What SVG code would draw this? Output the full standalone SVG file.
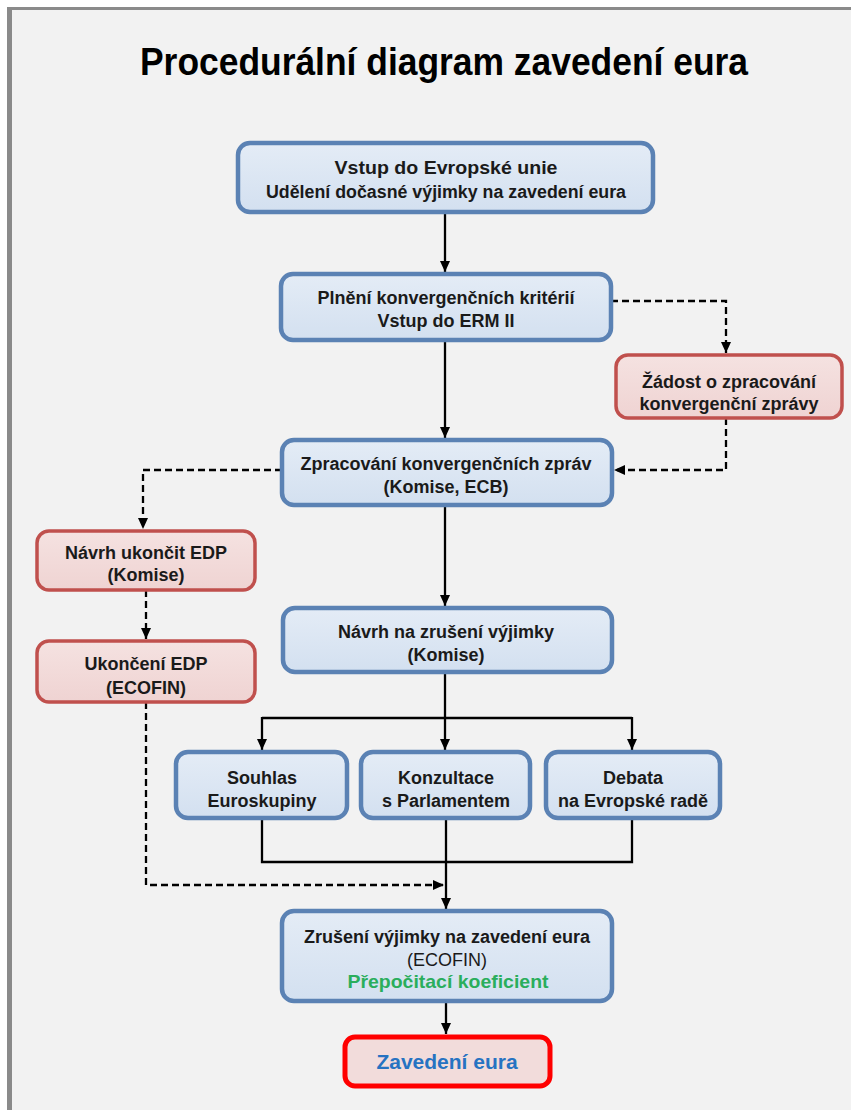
<svg xmlns="http://www.w3.org/2000/svg" width="851" height="1113" viewBox="0 0 851 1113">
<defs>
<linearGradient id="gb" x1="0" y1="0" x2="0" y2="1">
<stop offset="0" stop-color="#e4ecf6"/>
<stop offset="1" stop-color="#d3e0f0"/>
</linearGradient>
<linearGradient id="gr" x1="0" y1="0" x2="0" y2="1">
<stop offset="0" stop-color="#f5e2e1"/>
<stop offset="1" stop-color="#efd3d2"/>
</linearGradient>
<marker id="ah" markerWidth="12" markerHeight="12" refX="11" refY="6" orient="auto" markerUnits="userSpaceOnUse">
<path d="M0,1 L11,6 L0,11 z" fill="#000"/>
</marker>
</defs>
<style>
.blue{fill:url(#gb);stroke:#5b82b4;stroke-width:4.5}
.red{fill:url(#gr);stroke:#c0504d;stroke-width:3.5}
.final{fill:#f2dcdb;stroke:#ff0000;stroke-width:5}
.t{font-family:"Liberation Sans",Arial,sans-serif;font-size:18px;font-weight:bold;fill:#1a1a1a;text-anchor:middle}
.r{font-weight:normal}
.ln{fill:none;stroke:#000;stroke-width:2.3}
.dash{stroke-dasharray:7 4}
</style>
<rect x="0" y="0" width="851" height="1113" fill="#ffffff"/>
<rect x="7" y="7" width="844" height="1103" fill="#f2f2f2"/>
<rect x="7" y="7" width="844" height="3" fill="#8a8a8a"/>
<rect x="7" y="7" width="5" height="1103" fill="#8a8a8a"/>
<text x="444" y="75" font-family="Liberation Sans,Arial,sans-serif" font-size="39" font-weight="bold" text-anchor="middle" fill="#000" textLength="608" lengthAdjust="spacingAndGlyphs">Procedurální diagram zavedení eura</text>

<g id="connectors">
<path class="ln" d="M445,212 V272" marker-end="url(#ah)"/>
<path class="ln dash" d="M611,301 H726 V353" marker-end="url(#ah)"/>
<path class="ln dash" d="M726,418 V470 H614" marker-end="url(#ah)"/>
<path class="ln" d="M445,340 V438" marker-end="url(#ah)"/>
<path class="ln dash" d="M282,470 H143 V529" marker-end="url(#ah)"/>
<path class="ln dash" d="M146,590 V639" marker-end="url(#ah)"/>
<path class="ln dash" d="M146,702 V885 H444" marker-end="url(#ah)"/>
<path class="ln" d="M445,505 V606" marker-end="url(#ah)"/>
<path class="ln" d="M445,672 V750" marker-end="url(#ah)"/>
<path class="ln" d="M262,718 H632"/>
<path class="ln" d="M262,717 V750" marker-end="url(#ah)"/>
<path class="ln" d="M632,717 V750" marker-end="url(#ah)"/>
<path class="ln" d="M262,818 V862 H632 V818"/>
<path class="ln" d="M446,818 V909" marker-end="url(#ah)"/>
<path class="ln" d="M446,1001 V1034" marker-end="url(#ah)"/>
</g>

<g id="n-vstup-eu">
<rect class="blue" x="238" y="143" width="415" height="69" rx="12"/>
<text class="t" x="446" y="174" font-size="20" textLength="223" lengthAdjust="spacingAndGlyphs">Vstup do Evropské unie</text>
<text class="t" x="446" y="198" font-size="17.5" textLength="360" lengthAdjust="spacingAndGlyphs">Udělení dočasné výjimky na zavedení eura</text>
</g>
<g id="n-plneni">
<rect class="blue" x="281" y="274" width="330" height="66" rx="12"/>
<text class="t" x="446" y="304">Plnění konvergenčních kritérií</text>
<text class="t" x="446" y="327">Vstup do ERM II</text>
</g>
<g id="n-zadost">
<rect class="red" x="616" y="355" width="226" height="63" rx="12"/>
<text class="t" x="729" y="388">Žádost o zpracování</text>
<text class="t" x="729" y="410">konvergenční zprávy</text>
</g>
<g id="n-zpracovani">
<rect class="blue" x="282" y="440" width="330" height="65" rx="12"/>
<text class="t" x="446" y="470">Zpracování konvergenčních zpráv</text>
<text class="t" x="446" y="493">(Komise, ECB)</text>
</g>
<g id="n-navrh-edp">
<rect class="red" x="37" y="531" width="218" height="59" rx="12"/>
<text class="t" x="146" y="559">Návrh ukončit EDP</text>
<text class="t" x="146" y="581">(Komise)</text>
</g>
<g id="n-ukonceni-edp">
<rect class="red" x="37" y="641" width="218" height="61" rx="12"/>
<text class="t" x="146" y="670">Ukončení EDP</text>
<text class="t" x="146" y="694">(ECOFIN)</text>
</g>
<g id="n-navrh-zruseni">
<rect class="blue" x="283" y="608" width="329" height="64" rx="12"/>
<text class="t" x="446" y="638">Návrh na zrušení výjimky</text>
<text class="t" x="446" y="661">(Komise)</text>
</g>
<g id="n-souhlas">
<rect class="blue" x="176" y="752" width="171" height="66" rx="12"/>
<text class="t" x="262" y="784">Souhlas</text>
<text class="t" x="262" y="807">Euroskupiny</text>
</g>
<g id="n-konzultace">
<rect class="blue" x="361" y="752" width="169" height="66" rx="12"/>
<text class="t" x="446" y="784">Konzultace</text>
<text class="t" x="446" y="807">s Parlamentem</text>
</g>
<g id="n-debata">
<rect class="blue" x="546" y="752" width="174" height="66" rx="12"/>
<text class="t" x="633" y="784">Debata</text>
<text class="t" x="633" y="807">na Evropské radě</text>
</g>
<g id="n-zruseni">
<rect class="blue" x="282" y="911" width="330" height="90" rx="12"/>
<text class="t" x="447" y="943">Zrušení výjimky na zavedení eura</text>
<text class="t r" x="447" y="966">(ECOFIN)</text>
<text class="t" x="448" y="988" style="fill:#2aae5c;font-size:19px" textLength="201" lengthAdjust="spacingAndGlyphs">Přepočitací koeficient</text>
</g>
<g id="n-zavedeni">
<rect class="final" x="345" y="1037" width="205" height="49" rx="10"/>
<text class="t" x="447" y="1069" style="fill:#2673c2;font-size:21px">Zavedení eura</text>
</g>
</svg>
